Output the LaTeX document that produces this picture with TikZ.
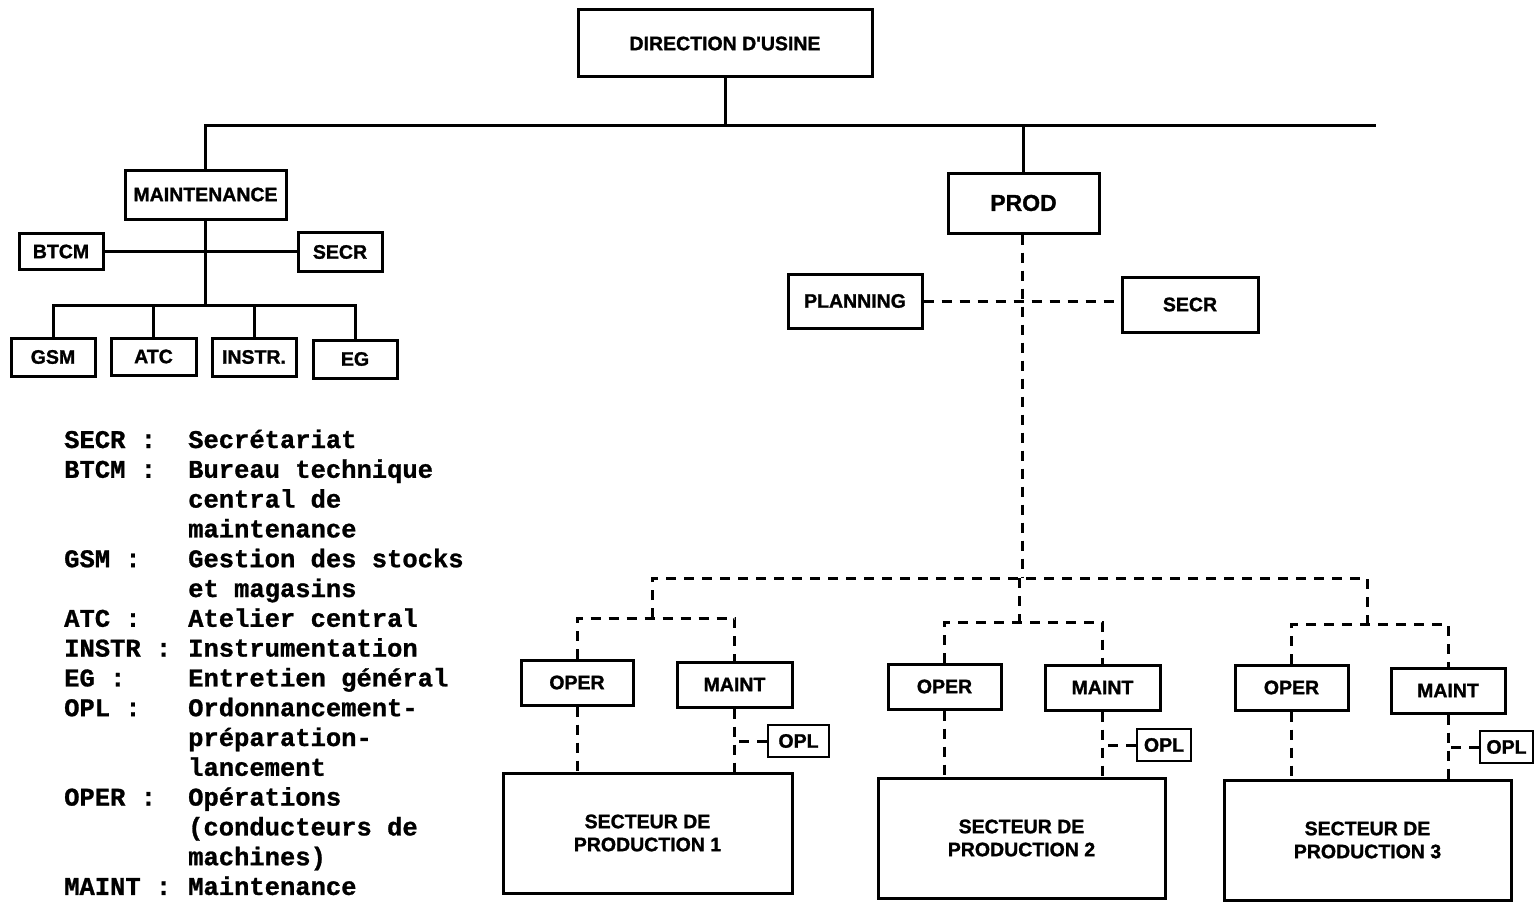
\documentclass[tikz,border=0pt]{standalone}
\usepackage{fontspec}
\setmainfont{Liberation Sans}[Ligatures=TeXOff,BoldFeatures={FakeBold=1.3}]
\newfontfamily\legendfont{Liberation Mono}[BoldFeatures={FakeBold=1}]
\begin{document}
\begin{tikzpicture}[x=1pt,y=-1pt,
  box/.style={draw,line width=3pt,rectangle,inner sep=0pt,align=center,
    font=\fontsize{19.5}{23}\selectfont\bfseries},
  solidlink/.style={line width=3pt},
  dashlink/.style={line width=3pt,dash pattern=on 10pt off 8pt},
  key/.style={anchor=base west,inner sep=0pt,font=\fontsize{25.5}{30}\selectfont\legendfont\bfseries},
]
\useasboundingbox (0,0) rectangle (1535,907);

% ---- top level ----
\node[box,minimum width=294,minimum height=67] (dir) at (725,43.5) {DIRECTION D'USINE};
\coordinate (busR) at (1376,125);

% ---- maintenance branch ----
\node[box,minimum width=161,minimum height=49] (maint) at (205.5,194.5) {MAINTENANCE};
\node[box,minimum width=84,minimum height=36] (btcm) at (61,251.5) {BTCM};
\node[box,minimum width=84,minimum height=39] (secrm) at (340,252) {SECR};
\node[box,minimum width=84,minimum height=38] (gsm) at (53,357) {GSM};
\node[box,minimum width=85,minimum height=37] (atc) at (153.5,356.5) {ATC};
\node[box,minimum width=84,minimum height=38] (instr) at (254,357) {INSTR.};
\node[box,minimum width=84,minimum height=38] (eg) at (355,359) {EG};
\coordinate (mhub) at (205.5,305);

\draw[solidlink] (dir.south) -- (dir.south |- busR);
\draw[solidlink] (maint.north) |- (busR);
\draw[solidlink] (maint.south) -- (mhub);
\draw[solidlink] (btcm.east) -- (btcm.east -| secrm.west);
\draw[solidlink] (gsm.north) |- (mhub) -| (eg.north);
\draw[solidlink] (atc.north) -- (atc.north |- mhub);
\draw[solidlink] (instr.north) -- (instr.north |- mhub);

% ---- production branch ----
\node[box,minimum width=151,minimum height=60,font=\fontsize{23}{27}\selectfont\bfseries] (prod) at (1023.5,203) {PROD};
\node[box,minimum width=134,minimum height=54] (plan) at (855,301) {PLANNING};
\node[box,minimum width=136,minimum height=55] (secrp) at (1190,304.5) {SECR};
\draw[solidlink] (prod.north) -- (prod.north |- busR);

\coordinate (pbus) at (1022,578);
\coordinate (j1) at (652,618);
\coordinate (j2) at (1019,622);
\coordinate (j3) at (1367,624);
\draw[dashlink] (prod.south -| pbus) -- (pbus);
\draw[dashlink] (plan.east) -- (plan.east -| secrp.west);
\draw[dashlink] (j1) -- (j1 |- pbus) -- (j3 |- pbus) -- (j3);
\draw[dashlink] (j2 |- pbus) -- (j2);

% sector 1
\node[box,minimum width=112,minimum height=45] (oper1) at (577,682.5) {OPER};
\node[box,minimum width=115,minimum height=45] (mnt1) at (734.5,684.5) {MAINT};
\node[box,minimum width=61,minimum height=32,line width=2.5pt] (opl1) at (798.5,741) {OPL};
\node[box,minimum width=289,minimum height=120] (sec1) at (647.5,833) {SECTEUR DE\\PRODUCTION 1};
\draw[dashlink] (oper1.north) |- (j1) -| (mnt1.north);
\draw[dashlink] (oper1.south) -- (oper1.south |- sec1.north);
\draw[dashlink] (mnt1.south) -- (mnt1.south |- sec1.north);
\draw[dashlink] (opl1.west) -- (opl1.west -| mnt1.south);

% sector 2
\node[box,minimum width=113,minimum height=45] (oper2) at (944.5,686.5) {OPER};
\node[box,minimum width=115,minimum height=45] (mnt2) at (1102.5,687.5) {MAINT};
\node[box,minimum width=54,minimum height=32,line width=2.5pt] (opl2) at (1164,745) {OPL};
\node[box,minimum width=287,minimum height=120] (sec2) at (1021.5,838) {SECTEUR DE\\PRODUCTION 2};
\draw[dashlink] (oper2.north) |- (j2) -| (mnt2.north);
\draw[dashlink] (oper2.south) -- (oper2.south |- sec2.north);
\draw[dashlink] (mnt2.south) -- (mnt2.south |- sec2.north);
\draw[dashlink] (opl2.west) -- (opl2.west -| mnt2.south);

% sector 3
\node[box,minimum width=113,minimum height=45] (oper3) at (1291.5,687.5) {OPER};
\node[box,minimum width=114,minimum height=45] (mnt3) at (1448,690.5) {MAINT};
\node[box,minimum width=53,minimum height=32,line width=2.5pt] (opl3) at (1506.5,747) {OPL};
\node[box,minimum width=287,minimum height=120] (sec3) at (1367.5,840) {SECTEUR DE\\PRODUCTION 3};
\draw[dashlink] (oper3.north) |- (j3) -| (mnt3.north);
\draw[dashlink] (oper3.south) -- (oper3.south |- sec3.north);
\draw[dashlink] (mnt3.south) -- (mnt3.south |- sec3.north);
\draw[dashlink] (opl3.west) -- (opl3.west -| mnt3.south);

% ---- legend ----
\node[key] (k1) at (64,448) {SECR :};
\node[key] (k2) at (64,477.8) {BTCM :};
\node[key] (k3) at (64,567.2) {GSM :};
\node[key] (k4) at (64,626.8) {ATC :};
\node[key] (k5) at (64,656.6) {INSTR :};
\node[key] (k6) at (64,686.4) {EG :};
\node[key] (k7) at (64,716.2) {OPL :};
\node[key] (k8) at (64,805.6) {OPER :};
\node[key] (k9) at (64,894.9) {MAINT :};

\node[key] (d1) at (188,448) {Secrétariat};
\node[key] (d2) at (188,477.8) {Bureau technique};
\node[key] (d3) at (188,507.6) {central de};
\node[key] (d4) at (188,537.4) {maintenance};
\node[key] (d5) at (188,567.2) {Gestion des stocks};
\node[key] (d6) at (188,597) {et magasins};
\node[key] (d7) at (188,626.8) {Atelier central};
\node[key] (d8) at (188,656.6) {Instrumentation};
\node[key] (d9) at (188,686.4) {Entretien général};
\node[key] (d10) at (188,716.2) {Ordonnancement-};
\node[key] (d11) at (188,746) {préparation-};
\node[key] (d12) at (188,775.8) {lancement};
\node[key] (d13) at (188,805.6) {Opérations};
\node[key] (d14) at (188,835.4) {(conducteurs de};
\node[key] (d15) at (188,865.2) {machines)};
\node[key] (d16) at (188,894.9) {Maintenance};
\end{tikzpicture}
\end{document}
